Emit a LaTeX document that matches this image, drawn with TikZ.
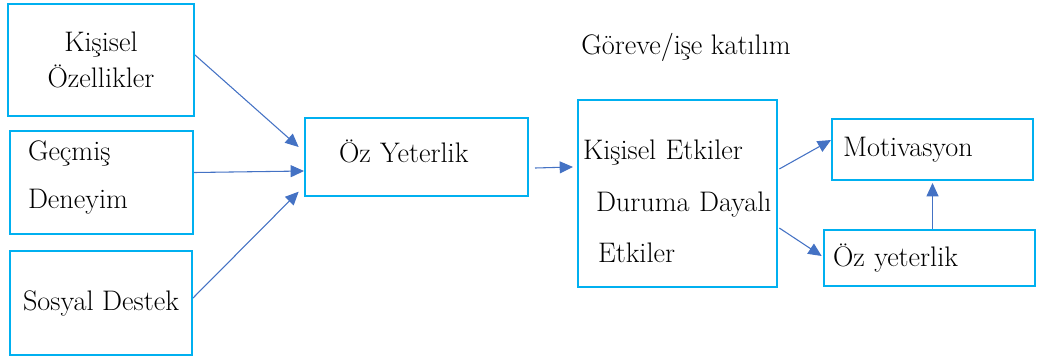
\documentclass[tikz,border=0pt]{standalone}
\usepackage{tikz}
\usetikzlibrary{positioning, arrows.meta, calc}
\definecolor{boxcyan}{HTML}{00B0F0}
\definecolor{arrblue}{HTML}{4472C4}

\begin{document}
\begin{tikzpicture}[
  x=0.75pt, y=-0.75pt,
  box/.style={
    rectangle, draw=boxcyan, line width=1.5pt, inner sep=0pt,
    font=\fontsize{21.2}{26.5}\selectfont
  },
  leftbox/.style={box, align=left},
  arr/.style={-{Triangle[length=10pt, width=9pt]}, line width=0.8pt, color=arrblue},
]
\useasboundingbox (0,0) rectangle (1037,362);

% Left column
\node[box, minimum width=139.5pt, minimum height=84pt, align=center] (kisisel) at (101,60) {Kişisel\\Özellikler};
\node[leftbox, text width=137.25pt, minimum height=77.25pt] (gecmis) at (101.5,182.5)
  {\hspace*{13.5pt}Geçmiş\\[9pt]\hspace*{13.5pt}Deneyim\rule[-12pt]{0pt}{12pt}};
\node[box, minimum width=136.5pt, minimum height=78pt, align=center] (sosyal) at (101,303) {Sosyal Destek};

% Middle
\node[leftbox, text width=167.25pt, minimum height=58.5pt] (oz) at (416.5,157)
  {\hspace*{25.5pt}Öz Yeterlik\rule[-9pt]{0pt}{9pt}};

% Title
\node[font=\fontsize{21.2}{26.5}\selectfont] (gorev) at (686,47) {Göreve/işe katılım};

% Effects
\node[leftbox, text width=149.25pt, minimum height=140.25pt] (etki) at (677.5,193.5)
  {\hspace*{3.75pt}Kişisel Etkiler\rule{0pt}{26.5pt}\\[12pt]\hspace*{13.5pt}Duruma Dayalı\\[12pt]\hspace*{15pt}Etkiler};

% Outcomes
\node[leftbox, text width=150.75pt, minimum height=45.75pt] (motiv) at (932.5,149.5)
  {\hspace*{8.25pt}Motivasyon};
\node[leftbox, text width=158.25pt, minimum height=42pt] (ozyet) at (929.5,258)
  {\hspace*{6.75pt}Öz yeterlik};

% Arrows into Oz Yeterlik
\draw[arr] ([yshift=3.75pt]kisisel.east) -- ([xshift=-4pt, yshift=7.5pt]oz.west);
\draw[arr] ([yshift=7.5pt]gecmis.east) -- ([yshift=-10.5pt]oz.west);
\draw[arr] ([yshift=3.75pt]sosyal.east) -- ([xshift=-4pt, yshift=-26pt]oz.west);

% Oz Yeterlik to effects
\draw[arr] ([xshift=4.5pt, yshift=-8.25pt]oz.east) -- ([xshift=-3pt, yshift=19.9pt]etki.west);

% Effects to outcomes
\draw[arr] ([xshift=1pt, yshift=18.4pt]etki.east) -- ([yshift=7.1pt]motiv.west);
\draw[arr] ([xshift=1pt, yshift=-25.9pt]etki.east) -- ([xshift=-1pt, yshift=1.5pt]ozyet.west);
\draw[arr] (ozyet.north -| motiv.south) -- ([yshift=-1.5pt]motiv.south);

\end{tikzpicture}
\end{document}
